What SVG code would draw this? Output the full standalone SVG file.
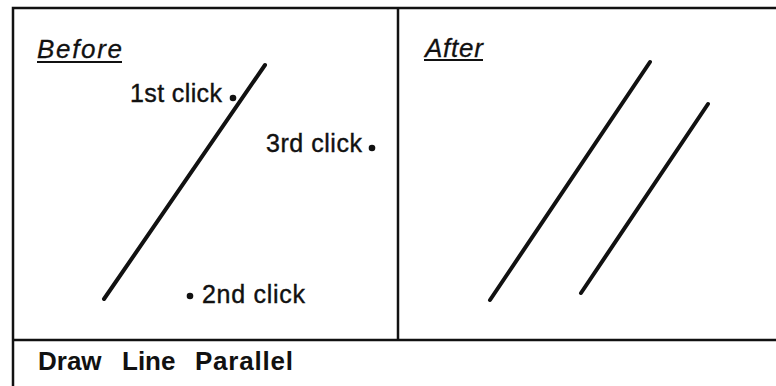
<svg xmlns="http://www.w3.org/2000/svg" width="776" height="386" viewBox="0 0 776 386">
<style>
.frame{stroke:#111;stroke-width:2.5;fill:none}
.ln{stroke:#111;stroke-width:4;stroke-linecap:round;fill:none}
.ul{stroke:#111;stroke-width:2;fill:none}
.dot{fill:#111}
.lbl{font-family:"Liberation Sans",Arial,sans-serif;font-size:25px;fill:#111;stroke:#111;stroke-width:0.4}
.head{font-family:"Liberation Sans",Arial,sans-serif;font-size:26px;font-style:italic;fill:#111;stroke:#111;stroke-width:0.3}
.title{font-family:"Liberation Sans",Arial,sans-serif;font-size:26px;font-weight:bold;fill:#111}
</style>
<rect width="776" height="386" fill="#fff"/>
<g id="frame">
<path class="frame" d="M13,386 L13,8 L776,8 M13,340 L776,340 M398,8 L398,340"/>
</g>
<g id="before">
<text class="head" x="37" y="58" textLength="85" lengthAdjust="spacing">Before</text>
<line class="ul" x1="37" y1="62" x2="122" y2="62"/>
<line class="ln" x1="104" y1="299" x2="265" y2="65"/>
<circle class="dot" cx="233" cy="98" r="3.3"/>
<text class="lbl" x="130" y="102" textLength="92" lengthAdjust="spacing">1st click</text>
<circle class="dot" cx="372" cy="148" r="3.3"/>
<text class="lbl" x="266" y="152" textLength="96" lengthAdjust="spacing">3rd click</text>
<circle class="dot" cx="190" cy="296" r="3.3"/>
<text class="lbl" x="202" y="303" textLength="103" lengthAdjust="spacing">2nd click</text>
</g>
<g id="after">
<text class="head" x="425" y="57" textLength="58" lengthAdjust="spacing">After</text>
<line class="ul" x1="424" y1="60" x2="483" y2="60"/>
<line class="ln" x1="490" y1="300" x2="650" y2="62"/>
<line class="ln" x1="581" y1="293" x2="708" y2="104"/>
</g>
<g id="caption">
<text class="title" y="370"><tspan x="38">Draw </tspan><tspan x="122">Line </tspan><tspan x="195" textLength="98" lengthAdjust="spacing">Parallel</tspan></text>
</g>
<g id="connectors"/>
</svg>
